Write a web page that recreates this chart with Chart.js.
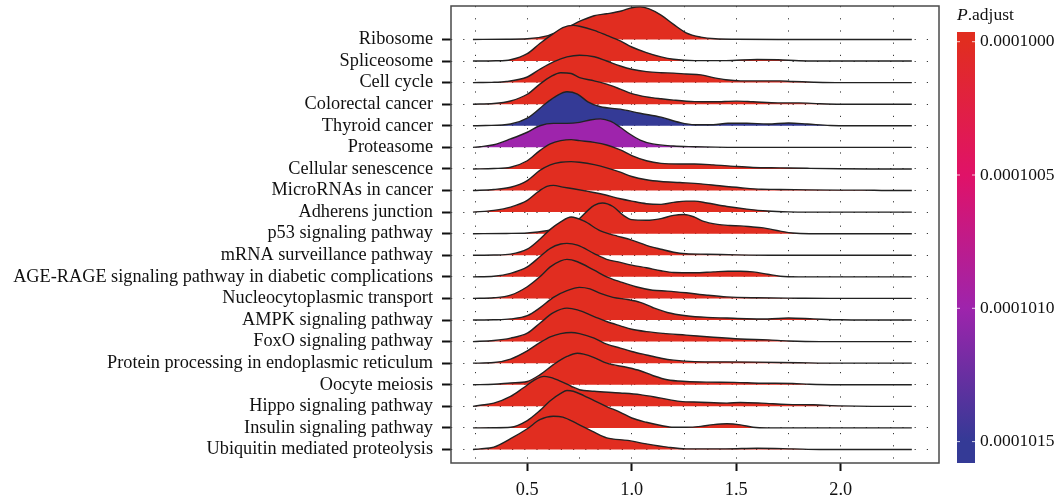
<!DOCTYPE html>
<html>
<head>
<meta charset="utf-8">
<script src="https://cdn.jsdelivr.net/npm/chart.js@4.4.1/dist/chart.umd.min.js"></script>
<style>
  html, body { margin: 0; padding: 0; background: #fff; }
  #wrap { width: 1060px; height: 500px; position: relative; }
</style>
</head>
<body>
<div id="wrap"><canvas id="ridges"></canvas></div>
<script>
// pathways, top to bottom as in the figure
const pathways = [
  'Ribosome', 'Spliceosome', 'Cell cycle', 'Colorectal cancer', 'Thyroid cancer',
  'Proteasome', 'Cellular senescence', 'MicroRNAs in cancer', 'Adherens junction',
  'p53 signaling pathway', 'mRNA surveillance pathway',
  'AGE-RAGE signaling pathway in diabetic complications', 'Nucleocytoplasmic transport',
  'AMPK signaling pathway', 'FoxO signaling pathway',
  'Protein processing in endoplasmic reticulum', 'Oocyte meiosis',
  'Hippo signaling pathway', 'Insulin signaling pathway', 'Ubiquitin mediated proteolysis'
];
const pAdjust = [
  0.0001000, 0.0001000, 0.0001000, 0.0001000, 0.0001015,
  0.0001010, 0.0001000, 0.0001000, 0.0001000, 0.0001000,
  0.0001000, 0.0001000, 0.0001000, 0.0001000, 0.0001000,
  0.0001000, 0.0001000, 0.0001000, 0.0001000, 0.0001000
];

// density curves: [x, height in row units]
const ribosome = [[0.24,0],[0.4,0.01],[0.5,0.03],[0.6,0.18],[0.65,0.37],[0.7,0.6],[0.76,0.88],[0.82,1.1],[0.88,1.19],[0.95,1.32],[1.0,1.47],[1.04,1.51],[1.08,1.43],[1.14,1.13],[1.2,0.7],[1.26,0.31],[1.33,0.11],[1.4,0.03],[1.5,0.01],[1.7,0],[2.34,0]];
const spliceosome = [[0.24,0],[0.35,0.01],[0.42,0.06],[0.5,0.34],[0.56,0.81],[0.625,1.27],[0.67,1.55],[0.72,1.65],[0.75,1.61],[0.82,1.42],[0.88,1.19],[0.945,0.93],[1.0,0.65],[1.07,0.39],[1.14,0.19],[1.2,0.08],[1.3,0.02],[1.45,0.02],[1.6,0.07],[1.7,0.06],[1.8,0.01],[1.9,0],[2.34,0]];
const cellCycle = [[0.24,0],[0.33,0.01],[0.4,0.05],[0.5,0.26],[0.56,0.62],[0.625,0.96],[0.69,1.19],[0.75,1.27],[0.82,1.2],[0.88,1.0],[0.945,0.77],[1.0,0.62],[1.07,0.51],[1.14,0.46],[1.2,0.44],[1.26,0.4],[1.33,0.36],[1.39,0.23],[1.45,0.13],[1.52,0.08],[1.62,0.08],[1.71,0.08],[1.77,0.05],[1.87,0.02],[2.0,0],[2.34,0]];
const colorectal = [[0.24,0],[0.34,0.03],[0.42,0.15],[0.5,0.46],[0.56,0.93],[0.61,1.27],[0.66,1.46],[0.71,1.42],[0.75,1.23],[0.82,1.08],[0.88,0.93],[0.945,0.7],[1.0,0.49],[1.07,0.34],[1.14,0.25],[1.2,0.19],[1.3,0.12],[1.39,0.11],[1.5,0.14],[1.58,0.11],[1.7,0.06],[1.8,0.06],[1.9,0.02],[2.0,0],[2.34,0]];
const thyroid = [[0.24,0],[0.3,0.01],[0.42,0.08],[0.5,0.35],[0.594,1.08],[0.64,1.39],[0.69,1.58],[0.74,1.47],[0.79,1.11],[0.85,0.88],[0.945,0.77],[1.04,0.58],[1.14,0.4],[1.23,0.15],[1.3,0.05],[1.39,0.05],[1.46,0.12],[1.55,0.12],[1.65,0.08],[1.75,0.13],[1.84,0.08],[1.95,0.01],[2.05,0],[2.34,0]];
const proteasome = [[0.24,0],[0.275,0.03],[0.34,0.12],[0.42,0.39],[0.5,0.7],[0.56,1.0],[0.625,1.11],[0.69,1.11],[0.75,1.16],[0.8,1.27],[0.85,1.32],[0.9,1.2],[0.945,0.93],[0.99,0.62],[1.04,0.34],[1.1,0.16],[1.2,0.06],[1.3,0.03],[1.4,0.01],[1.5,0],[2.34,0]];
const senescence = [[0.24,0],[0.34,0.02],[0.42,0.08],[0.5,0.38],[0.56,0.85],[0.61,1.16],[0.66,1.31],[0.71,1.36],[0.75,1.31],[0.82,1.23],[0.88,1.11],[0.945,0.88],[1.0,0.62],[1.07,0.38],[1.14,0.26],[1.23,0.23],[1.3,0.23],[1.39,0.19],[1.49,0.12],[1.58,0.07],[1.71,0.05],[1.84,0.03],[2.0,0.01],[2.15,0],[2.34,0]];
const microRNAs = [[0.24,0],[0.34,0.05],[0.42,0.15],[0.5,0.46],[0.56,0.93],[0.61,1.19],[0.66,1.31],[0.71,1.34],[0.75,1.31],[0.82,1.2],[0.88,1.05],[0.945,0.85],[1.0,0.65],[1.07,0.5],[1.14,0.42],[1.23,0.37],[1.33,0.31],[1.42,0.22],[1.52,0.13],[1.62,0.06],[1.71,0.05],[1.85,0.03],[2.0,0.02],[2.1,0.02],[2.22,0],[2.34,0]];
const adherens = [[0.24,0],[0.34,0.08],[0.42,0.23],[0.5,0.54],[0.55,0.93],[0.594,1.19],[0.625,1.24],[0.67,1.16],[0.72,1.08],[0.79,0.96],[0.85,0.85],[0.945,0.62],[1.0,0.51],[1.07,0.39],[1.14,0.36],[1.2,0.45],[1.26,0.51],[1.3,0.51],[1.36,0.42],[1.455,0.26],[1.55,0.14],[1.65,0.05],[1.75,0.01],[1.85,0],[2.34,0]];
const p53 = [[0.24,0],[0.4,0.01],[0.5,0.03],[0.6,0.15],[0.7,0.4],[0.75,0.7],[0.79,1.08],[0.82,1.31],[0.86,1.42],[0.91,1.26],[0.96,0.85],[1.0,0.65],[1.07,0.62],[1.14,0.7],[1.2,0.85],[1.25,0.89],[1.3,0.77],[1.34,0.58],[1.41,0.43],[1.47,0.38],[1.52,0.36],[1.58,0.31],[1.62,0.28],[1.71,0.12],[1.77,0.03],[1.85,0],[2.34,0]];
const mRNA = [[0.24,0],[0.34,0.01],[0.42,0.05],[0.5,0.28],[0.56,0.74],[0.61,1.2],[0.66,1.55],[0.71,1.77],[0.77,1.59],[0.85,1.13],[0.9,0.97],[0.93,0.89],[1.0,0.7],[1.07,0.46],[1.14,0.28],[1.2,0.14],[1.26,0.07],[1.36,0.05],[1.5,0.02],[1.7,0],[2.34,0]];
const ageRage = [[0.24,0],[0.34,0.03],[0.42,0.16],[0.5,0.46],[0.56,0.93],[0.61,1.32],[0.66,1.52],[0.69,1.55],[0.74,1.47],[0.82,1.08],[0.88,0.81],[0.945,0.67],[1.0,0.54],[1.07,0.42],[1.14,0.28],[1.2,0.2],[1.3,0.19],[1.39,0.23],[1.46,0.26],[1.52,0.26],[1.58,0.23],[1.65,0.12],[1.71,0.03],[1.8,0],[2.34,0]];
const nucleo = [[0.24,0],[0.34,0.03],[0.42,0.15],[0.5,0.54],[0.56,1.0],[0.61,1.46],[0.66,1.74],[0.69,1.81],[0.74,1.7],[0.82,1.31],[0.88,1.0],[0.945,0.77],[1.02,0.54],[1.1,0.38],[1.17,0.34],[1.26,0.26],[1.36,0.15],[1.455,0.07],[1.6,0.03],[1.8,0.01],[1.95,0],[2.34,0]];
const ampk = [[0.24,0],[0.34,0.01],[0.42,0.05],[0.5,0.2],[0.56,0.56],[0.625,1.05],[0.69,1.36],[0.75,1.51],[0.8,1.44],[0.85,1.23],[0.91,1.05],[0.98,0.95],[1.04,0.82],[1.1,0.58],[1.17,0.35],[1.26,0.2],[1.36,0.12],[1.455,0.09],[1.55,0.06],[1.65,0.05],[1.75,0.09],[1.87,0.05],[2.0,0.01],[2.1,0],[2.34,0]];
const foxo = [[0.24,0],[0.34,0.05],[0.42,0.16],[0.5,0.39],[0.56,0.85],[0.625,1.34],[0.69,1.55],[0.74,1.47],[0.82,1.16],[0.88,0.93],[0.945,0.73],[1.0,0.57],[1.07,0.46],[1.15,0.38],[1.26,0.3],[1.39,0.2],[1.52,0.12],[1.65,0.08],[1.75,0.03],[1.9,0],[2.34,0]];
const proteinER = [[0.24,0],[0.34,0.03],[0.42,0.19],[0.5,0.57],[0.56,0.95],[0.61,1.22],[0.66,1.37],[0.71,1.42],[0.75,1.37],[0.82,1.16],[0.88,0.88],[0.945,0.7],[1.0,0.54],[1.07,0.38],[1.14,0.23],[1.2,0.14],[1.3,0.07],[1.45,0.06],[1.6,0.05],[1.8,0.02],[2.0,0],[2.34,0]];
const oocyte = [[0.24,0],[0.34,0.02],[0.42,0.08],[0.5,0.15],[0.56,0.46],[0.625,0.93],[0.69,1.31],[0.74,1.46],[0.77,1.42],[0.82,1.26],[0.88,1.0],[0.98,0.8],[1.04,0.65],[1.1,0.43],[1.17,0.23],[1.26,0.15],[1.36,0.12],[1.49,0.11],[1.62,0.07],[1.77,0.06],[1.85,0.02],[2.0,0],[2.34,0]];
const hippo = [[0.24,0],[0.275,0.05],[0.34,0.15],[0.42,0.46],[0.48,0.85],[0.53,1.19],[0.58,1.39],[0.61,1.34],[0.66,1.16],[0.71,0.93],[0.75,0.77],[0.82,0.7],[0.945,0.62],[1.04,0.54],[1.14,0.38],[1.23,0.23],[1.33,0.19],[1.455,0.15],[1.52,0.18],[1.62,0.15],[1.74,0.09],[1.87,0.07],[2.0,0.02],[2.15,0],[2.34,0]];
const insulin = [[0.24,0],[0.34,0.01],[0.42,0.03],[0.5,0.34],[0.56,0.8],[0.61,1.26],[0.66,1.6],[0.69,1.73],[0.72,1.7],[0.77,1.5],[0.82,1.26],[0.88,0.99],[0.945,0.72],[1.0,0.46],[1.07,0.26],[1.14,0.11],[1.2,0.03],[1.26,0.03],[1.33,0.07],[1.39,0.15],[1.455,0.19],[1.52,0.14],[1.58,0.03],[1.65,0],[2.34,0]];
const ubiquitin = [[0.24,0],[0.275,0.03],[0.34,0.11],[0.42,0.5],[0.5,0.96],[0.56,1.38],[0.625,1.54],[0.67,1.5],[0.74,1.19],[0.82,0.8],[0.88,0.54],[0.98,0.42],[1.07,0.26],[1.17,0.11],[1.26,0.03],[1.45,0.03],[1.6,0.06],[1.77,0.03],[1.9,0],[2.34,0]];

const ridgeData = [ribosome, spliceosome, cellCycle, colorectal, thyroid, proteasome,
  senescence, microRNAs, adherens, p53, mRNA, ageRage, nucleo, ampk, foxo,
  proteinER, oocyte, hippo, insulin, ubiquitin];

const xTickLabels = [0.5, 1.0, 1.5, 2.0];
const xGridLines = [0.25, 0.5, 0.75, 1.0, 1.25, 1.5, 1.75, 2.0, 2.25];
const legendTicks = [0.0001000, 0.0001005, 0.0001010, 0.0001015];

// colour scale for P.adjust
const colorStops = [
  [0.0001000, [225, 45, 32]],
  [0.0001005, [224, 18, 104]],
  [0.0001010, [158, 36, 172]],
  [0.0001015, [52, 58, 150]]
];
function colorFor(p) {
  if (p <= colorStops[0][0]) return 'rgb(' + colorStops[0][1].join(',') + ')';
  for (let i = 1; i < colorStops.length; i++) {
    if (p <= colorStops[i][0]) {
      const a = colorStops[i - 1], b = colorStops[i];
      const t = (p - a[0]) / (b[0] - a[0]);
      const c = a[1].map((v, k) => Math.round(v + (b[1][k] - v) * t));
      return 'rgb(' + c.join(',') + ')';
    }
  }
  return 'rgb(' + colorStops[colorStops.length - 1][1].join(',') + ')';
}

const n = pathways.length;
const serif = "'Liberation Serif', 'Times New Roman', serif";
const fontSize = 18.3;

const datasets = pathways.map((name, i) => {
  const base = n - i;
  return {
    label: name,
    data: ridgeData[i].map(([x, h]) => ({ x: x, y: base + h })),
    fill: { value: base },
    backgroundColor: colorFor(pAdjust[i]),
    borderColor: '#222',
    borderWidth: 1.4,
    pointRadius: 0,
    cubicInterpolationMode: 'monotone',
    order: base
  };
});

// panel border + colour bar legend
const framePlugin = {
  id: 'frame',
  afterDraw(chart) {
    const { ctx, chartArea: a } = chart;
    ctx.save();
    ctx.strokeStyle = '#4a4a4a';
    ctx.lineWidth = 1.5;
    ctx.strokeRect(a.left, a.top, a.right - a.left, a.bottom - a.top);

    // colour bar
    const bx = 957, bw = 18, top = 32, bottom = 463;
    const y0 = 41.7, step = 133.3; // y of first label, px per legend step
    const pToY = p => y0 + (p - legendTicks[0]) / (legendTicks[1] - legendTicks[0]) * step;
    const g = ctx.createLinearGradient(0, top, 0, bottom);
    colorStops.forEach(([p, c]) => {
      const pos = Math.min(1, Math.max(0, (pToY(p) - top) / (bottom - top)));
      g.addColorStop(pos, 'rgb(' + c.join(',') + ')');
    });
    ctx.fillStyle = g;
    ctx.fillRect(bx, top, bw, bottom - top);

    ctx.font = '17.5px ' + serif;
    ctx.fillStyle = '#111';
    ctx.textBaseline = 'middle';
    ctx.textAlign = 'left';
    legendTicks.forEach(p => {
      const y = pToY(p);
      ctx.strokeStyle = 'rgba(255,255,255,0.8)';
      ctx.lineWidth = 1;
      ctx.beginPath();
      ctx.moveTo(bx, y); ctx.lineTo(bx + 3, y);
      ctx.moveTo(bx + bw - 3, y); ctx.lineTo(bx + bw, y);
      ctx.stroke();
      ctx.fillText(p.toFixed(7), bx + 23, y);
    });

    // title: italic P + ".adjust"
    ctx.font = 'italic 17.5px ' + serif;
    ctx.fillText('P', bx, 15);
    const w = ctx.measureText('P').width;
    ctx.font = '17.5px ' + serif;
    ctx.fillText('.adjust', bx + w, 15);
    ctx.restore();
  }
};

new Chart(document.getElementById('ridges'), {
  type: 'line',
  data: { datasets: datasets },
  options: {
    responsive: true,
    maintainAspectRatio: false,
    animation: false,
    layout: { padding: { top: 6, right: 121, bottom: 0, left: 0 } },
    plugins: {
      legend: { display: false },
      tooltip: { enabled: false }
    },
    scales: {
      x: {
        type: 'linear',
        min: 0.135,
        max: 2.47,
        afterBuildTicks: s => { s.ticks = xGridLines.map(v => ({ value: v })); },
        afterFit: s => { s.height = 37; s.paddingLeft = 0; s.paddingRight = 0; },
        border: { display: false, dash: [1.2, 11] },
        grid: {
          color: 'rgba(20,20,20,0.85)',
          lineWidth: 1,
          tickLength: 8,
          tickWidth: 2,
          tickBorderDash: [],
          tickColor: c => xTickLabels.includes(c.tick.value) ? '#111' : 'rgba(0,0,0,0)'
        },
        ticks: {
          autoSkip: false,
          maxRotation: 0,
          padding: 8,
          color: '#111',
          font: { family: serif, size: fontSize },
          callback: v => xTickLabels.includes(v) ? v.toFixed(1) : ''
        }
      },
      y: {
        type: 'linear',
        min: 0.374,
        max: 21.55,
        afterBuildTicks: s => { s.ticks = pathways.map((p, i) => ({ value: n - i })); },
        afterFit: s => { s.width = 451; s.paddingTop = 0; s.paddingBottom = 0; },
        border: { display: false, dash: [1.2, 11] },
        grid: {
          color: 'rgba(20,20,20,0.85)',
          lineWidth: 1,
          tickLength: 9,
          tickWidth: 2,
          tickBorderDash: [],
          tickColor: '#111'
        },
        ticks: {
          autoSkip: false,
          padding: 9,
          color: '#111',
          font: { family: serif, size: fontSize },
          callback: v => pathways[n - v]
        }
      }
    }
  },
  plugins: [framePlugin]
});
</script>
</body>
</html>
